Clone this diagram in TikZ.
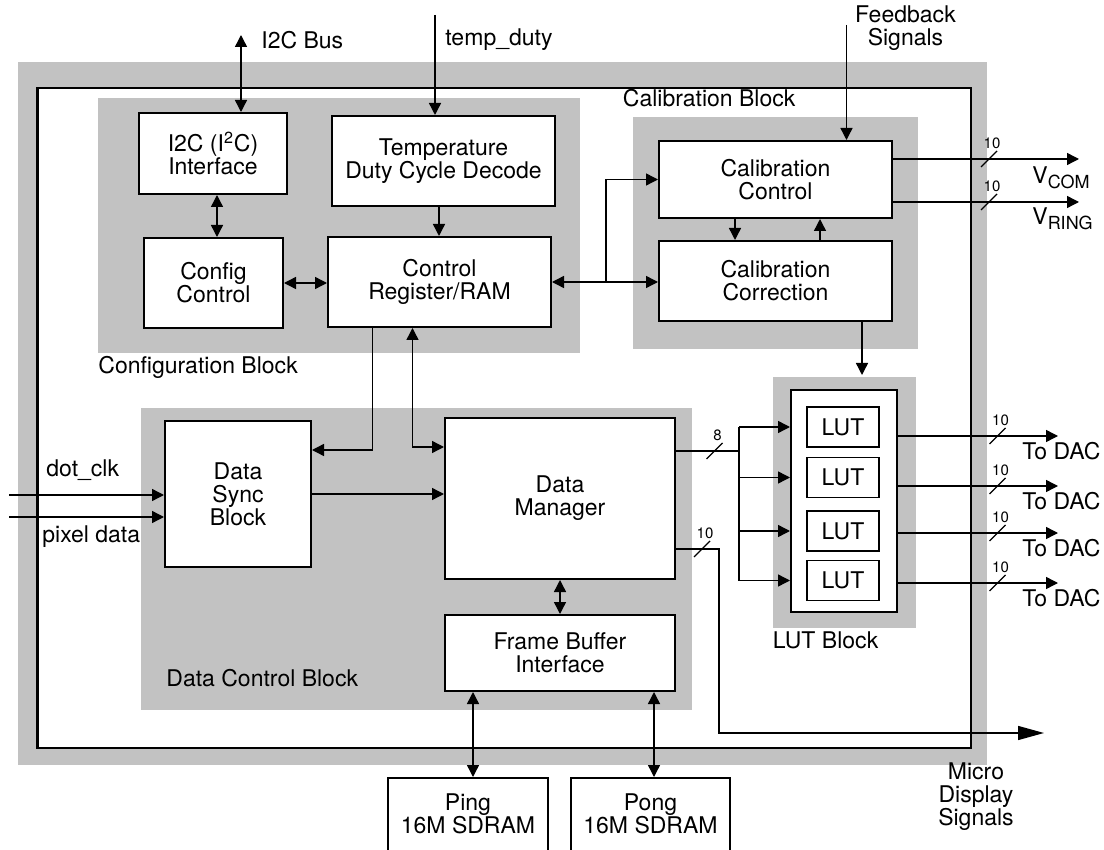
\documentclass[tikz,border=0pt]{standalone}
\usepackage{fontspec}
\setmainfont{TeX Gyre Heros}
\usepackage{tikz}
\usetikzlibrary{
	arrows.meta,
	calc,
	positioning
}
\newcommand{\busmark}[3]{\draw[ln] ($(#1)+(-8,8)$) -- ++(16,-16) node[num, above, xshift=-2.5pt] (#3) {#2};}
\newcommand{\sigsub}[1]{\raisebox{-0.45ex}{\fontsize{9}{9}\selectfont #1}}

\begin{document}
\begin{tikzpicture}[x=0.5pt, y=-0.5pt,
		font=\fontsize{11.5}{11.5}\selectfont,
		blk/.style={draw, line width=1pt, fill=white, align=center, inner sep=0pt},
		lutbox/.style={draw, line width=0.8pt, fill=white, inner sep=0pt, minimum width=36pt, minimum height=20pt},
		zone/.style={fill=black!24},
		ln/.style={line width=0.7pt},
		arr/.style={line width=0.7pt, -{Triangle[length=6pt,width=6pt]}},
		darr/.style={line width=0.7pt, {Triangle[length=6pt,width=6pt]}-{Triangle[length=6pt,width=6pt]}},
		lbl/.style={inner sep=0pt, align=center},
		num/.style={font=\fontsize{7.5}{8}\selectfont, inner sep=1pt}]
		\useasboundingbox (0,0) rectangle (1104,850);
		\clip (0,0) rectangle (1104,850);
		% 背景区域
		\fill[zone] (18,62) rectangle (987,765);
		\draw[line width=1.2pt, fill=white] (37.5,88) rectangle (971,748);
		\fill[zone] (97.5,98) rectangle (580,353);
		\fill[zone] (633,117) rectangle (918,349);
		\fill[zone] (772.5,377) rectangle (916,628);
		\fill[zone] (141,408) rectangle (692,710);
		% 配置模块
		\node[blk, minimum width=74pt, minimum height=40.5pt] (i2c) at (213,153.5) {I2C (I\textsuperscript{2}C)\\Interface};
		\node[blk, minimum width=111.5pt, minimum height=45pt] (temp) at (443.5,161) {Temperature\\Duty Cycle Decode};
		\node[blk, minimum width=69.5pt, minimum height=45pt] (cfg) at (213.5,283) {Config\\Control};
		\node[blk, minimum width=111.5pt, minimum height=45pt] (creg) at (439.5,282) {Control\\Register/RAM};
		\node[lbl, anchor=west] (cfglbl) at (98,367) {Configuration Block};
		% 校准模块
		\node[blk, minimum width=116.5pt, minimum height=38.5pt] (calctl) at (775.5,179.5) {Calibration\\Control};
		\node[blk, minimum width=116.5pt, minimum height=40pt] (calcor) at (775.5,281) {Calibration\\Correction};
		\node[lbl, anchor=west] (callbl) at (622.5,98) {Calibration Block};
		% LUT 模块
		\node[blk, minimum width=53pt, minimum height=111pt] (lutin) at (844,501) {};
		\foreach \n/\y in {1/427, 2/477.5, 3/531, 4/580.5}
			\node[lutbox] (lut\n) at (843,\y) {LUT};
		\node[lbl, anchor=west] (lutlbl) at (772.5,640) {LUT Block};
		% 数据控制模块
		\node[blk, minimum width=73pt, minimum height=73pt] (sync) at (238,494) {Data\\Sync\\Block};
		\node[blk, minimum width=115pt, minimum height=80.5pt] (dm) at (560,498.5) {Data\\Manager};
		\node[blk, minimum width=115pt, minimum height=38pt] (fbi) at (560,653) {Frame Buffer\\Interface};
		\node[lbl, anchor=west] (datalbl) at (166,678) {Data Control Block};
		% SDRAM
		\node[blk, minimum width=80pt, minimum height=50pt, anchor=north] (ping) at (468,777) {};
		\node[lbl] (pingtxt) at ($(ping.north)+(0,37)$) {Ping\\16M SDRAM};
		\node[blk, minimum width=79.5pt, minimum height=50pt, anchor=north] (pong) at (650.5,777) {};
		\node[lbl] (pongtxt) at ($(pong.north)+(0,37)$) {Pong\\16M SDRAM};
		% 外部输入
		\coordinate (busin) at (241,35);
		\draw[darr] (busin) -- (busin |- i2c.north);
		\node[lbl, anchor=west] (buslbl) at (261,40) {I2C Bus};
		\coordinate (tempin) at (435,15);
		\draw[arr] (tempin) -- (tempin |- temp.north);
		\node[lbl, anchor=west] (templbl) at (445,40) {temp\_duty};
		\coordinate (fbin) at (846.5,25);
		\draw[arr] (fbin) -- (fbin |- calctl.north);
		\node[lbl] (fblbl) at (905.5,28) {Feedback\\Signals};
		\coordinate (clkin) at (9,495);
		\coordinate (pixin) at (9,517);
		\draw[arr] (clkin) -- (clkin -| sync.west);
		\draw[arr] (pixin) -- (pixin -| sync.west);
		\node[lbl, anchor=west] (clklbl) at (46,470) {dot\_clk};
		\node[lbl, anchor=west] (pixlbl) at (42,537) {pixel data};
		% 配置模块内部
		\coordinate (cfgio) at ($(i2c.south)+(4,0)$);
		\draw[darr] (cfgio) -- (cfgio |- cfg.north);
		\draw[darr] (cfg.east) -- (cfg.east -| creg.west);
		\coordinate (tempout) at ($(temp.south)+(-4.5,0)$);
		\draw[arr] (tempout) -- (tempout |- creg.north);
		% 控制寄存器连线
		\coordinate (syncin) at (372.5,450);
		\draw[arr] (creg.south -| syncin) -- (syncin) -- (syncin -| sync.east);
		\coordinate (dmin) at (412.5,447);
		\draw[darr] (creg.south -| dmin) -- (dmin) -- (dmin -| dm.west);
		\coordinate (calbr) at (606,282);
		\draw[darr] (creg.east) -- (creg.east -| calcor.west);
		\draw[arr] (creg.east -| calbr) |- (calctl.west);
		% 校准模块内部
		\draw[arr] ($(calctl.south)+(-40.5,0)$) -- ($(calcor.north)+(-40.5,0)$);
		\draw[arr] ($(calcor.north)+(44.5,0)$) -- ($(calctl.south)+(44.5,0)$);
		\coordinate (luttop) at (862,375);
		\draw[arr] (calcor.south -| luttop) -- (luttop);
		% 校准输出
		\coordinate (vcom) at (1079,159);
		\coordinate (vring) at (1079,202);
		\draw[arr] (vcom -| calctl.east) -- (vcom);
		\draw[arr] (vring -| calctl.east) -- (vring);
		\busmark{989,159}{10}{wcom}
		\busmark{989,202}{10}{wring}
		\node[lbl, anchor=west] (vcomlbl) at (1032,178) {V\sigsub{COM}};
		\node[lbl, anchor=west] (vringlbl) at (1032,219) {V\sigsub{RING}};
		% 数据通路
		\draw[arr] (sync.east) -- (sync.east -| dm.west);
		\draw[darr] (dm.south) -- (fbi.north);
		\coordinate (pingio) at ($(ping.north)+(5,0)$);
		\coordinate (pongio) at ($(pong.north)+(3.5,0)$);
		\draw[darr] (pingio |- fbi.south) -- (pingio);
		\draw[darr] (pongio |- fbi.south) -- (pongio);
		% LUT 输入
		\coordinate (bus8) at (739,451);
		\draw[ln] (dm.east |- bus8) -- (bus8);
		\busmark{714.5,451}{8}{w8}
		\draw[ln] (bus8 |- lut1) -- (bus8 |- lut4);
		\foreach \n in {1,...,4}
			\draw[arr] (bus8 |- lut\n) -- (lutin.west |- lut\n);
		% LUT 输出
		\foreach \n/\y in {1/436, 2/486, 3/533, 4/583} {
			\coordinate (dac\n) at (1058,\y);
			\draw[arr] (dac\n -| lutin.east) -- (dac\n);
			\busmark{997.5,\y}{10}{wd\n}
			\node[lbl, anchor=west] (daclbl\n) at (1022,\y+15) {To DAC};
		}
		% 微显示信号
		\coordinate (mdbend) at (719,549);
		\coordinate (mdout) at (1044,733);
		\draw[ln, -{Triangle[length=13pt,width=7pt]}] (mdbend -| dm.east) -- (mdbend) |- (mdout);
		\busmark{702,549}{10}{wdm}
		\node[lbl] (mdlbl) at (976,797) {Micro\\Display\\Signals};
	\end{tikzpicture}
\end{document}
